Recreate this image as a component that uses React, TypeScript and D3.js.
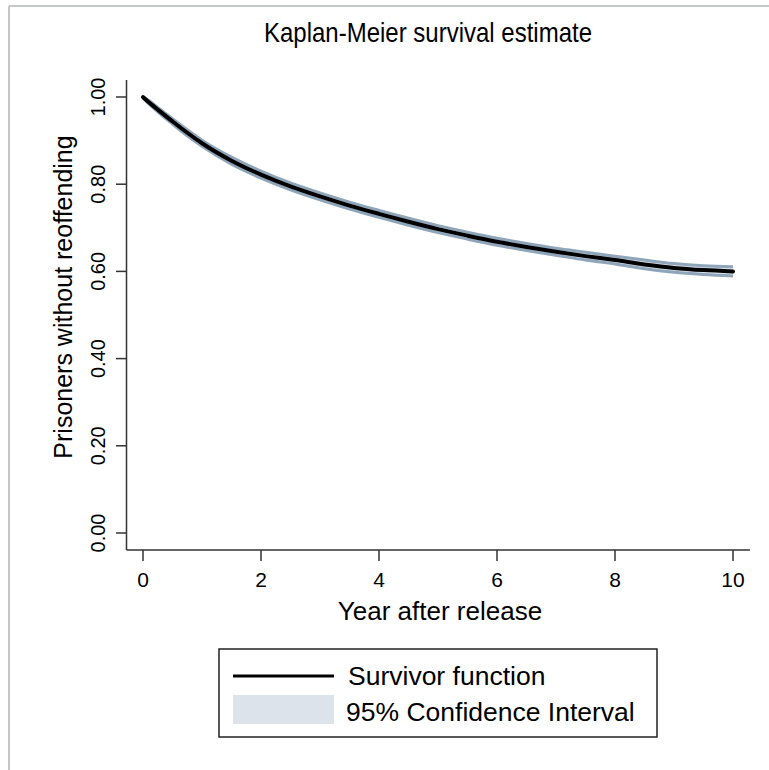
import React from "react";
import * as d3 from "d3";

const years = [0, 0.1, 0.25, 0.5, 0.75, 1, 1.5, 2, 2.5, 3, 3.5, 4, 4.5, 5, 5.5, 6, 6.5, 7, 7.5, 8, 8.5, 9, 9.5, 10];
const survival = [1.0, 0.988, 0.971, 0.944, 0.918, 0.894, 0.854, 0.822, 0.795, 0.772, 0.751, 0.732, 0.714, 0.697, 0.682, 0.668, 0.656, 0.645, 0.635, 0.626, 0.616, 0.608, 0.603, 0.6];
const ciLower = [0.998, 0.984, 0.966, 0.938, 0.911, 0.887, 0.846, 0.814, 0.787, 0.764, 0.743, 0.724, 0.706, 0.689, 0.674, 0.66, 0.648, 0.637, 0.626, 0.617, 0.606, 0.598, 0.593, 0.5895];
const ciUpper = [1.0, 0.992, 0.976, 0.95, 0.925, 0.901, 0.862, 0.83, 0.803, 0.78, 0.759, 0.74, 0.722, 0.705, 0.69, 0.676, 0.664, 0.653, 0.644, 0.635, 0.626, 0.618, 0.613, 0.6105];
const xTicks = [0, 2, 4, 6, 8, 10];
const yTicks = [0, 0.2, 0.4, 0.6, 0.8, 1.0];
const yTickLabels = ["0.00", "0.20", "0.40", "0.60", "0.80", "1.00"];

const FONT = "'Liberation Sans', Arial, Helvetica, sans-serif";

export default function App() {
  const x = d3.scaleLinear().domain([0, 10]).range([143, 733]);
  const y = d3.scaleLinear().domain([0, 1]).range([533, 97]);
  const pts = years.map((t, i) => ({ t, s: survival[i], lo: ciLower[i], hi: ciUpper[i] }));
  const line = d3.line<any>().x((d) => x(d.t)).y((d) => y(d.s)).curve(d3.curveMonotoneX);
  const area = d3.area<any>().x((d) => x(d.t)).y0((d) => y(d.lo)).y1((d) => y(d.hi)).curve(d3.curveMonotoneX);
  const loLine = d3.line<any>().x((d) => x(d.t)).y((d) => y(d.lo)).curve(d3.curveMonotoneX);
  const hiLine = d3.line<any>().x((d) => x(d.t)).y((d) => y(d.hi)).curve(d3.curveMonotoneX);
  const axisColor = "#333";
  return (
    <svg width={769} height={770} style={{ position: "absolute", left: 0, top: 0, background: "#fff" }} fontFamily={FONT}>
      <rect x={0} y={0} width={769} height={770} fill="#fff" />
      <line x1={9} y1={6} x2={769} y2={6} stroke="#c4c8c8" strokeWidth={2} />
      <line x1={9} y1={6} x2={9} y2={770} stroke="#c4c8c8" strokeWidth={2} />
      <text transform="translate(428,42) scale(1,1.15)" textAnchor="middle" fontSize={24} fill="#000">Kaplan-Meier survival estimate</text>
      {/* CI band */}
      <path d={area(pts) || ""} fill="#dde3ea" stroke="none" />
      <path d={loLine(pts) || ""} fill="none" stroke="#8ea5ba" strokeWidth={3} />
      <path d={hiLine(pts) || ""} fill="none" stroke="#8ea5ba" strokeWidth={3} />
      <path d={line(pts) || ""} fill="none" stroke="#000" strokeWidth={4} strokeLinecap="round" />
      {/* y axis */}
      <line x1={126.5} y1={80} x2={126.5} y2={550} stroke={axisColor} strokeWidth={1.5} />
      {yTicks.map((v, i) => (
        <g key={v}>
          <line x1={116} x2={126.5} y1={y(v)} y2={y(v)} stroke={axisColor} strokeWidth={1.5} />
          <text transform={`translate(105,${y(v)}) rotate(-90)`} textAnchor="middle" fontSize={20} fill="#000">{yTickLabels[i]}</text>
        </g>
      ))}
      <text transform={`translate(72,297) rotate(-90)`} textAnchor="middle" fontSize={25} fill="#000">Prisoners without reoffending</text>
      {/* x axis */}
      <line x1={126.5} y1={550} x2={750} y2={550} stroke={axisColor} strokeWidth={1.5} />
      {xTicks.map((v) => (
        <g key={v}>
          <line x1={x(v)} x2={x(v)} y1={550} y2={561} stroke={axisColor} strokeWidth={1.5} />
          <text x={x(v)} y={587} textAnchor="middle" fontSize={21} fill="#000">{v}</text>
        </g>
      ))}
      <text x={440} y={620} textAnchor="middle" fontSize={26} fill="#000">Year after release</text>
      {/* legend */}
      <rect x={219} y={649} width={438} height={88} fill="#fff" stroke="#222" strokeWidth={1.5} />
      <line x1={233} x2={334} y1={676} y2={676} stroke="#000" strokeWidth={3} />
      <rect x={233} y={695} width={101} height={29} fill="#dde3ea" />
      <text x={348} y={685} fontSize={26.5} fill="#000">Survivor function</text>
      <text x={346} y={721} fontSize={26.5} fill="#000">95% Confidence Interval</text>
    </svg>
  );
}
